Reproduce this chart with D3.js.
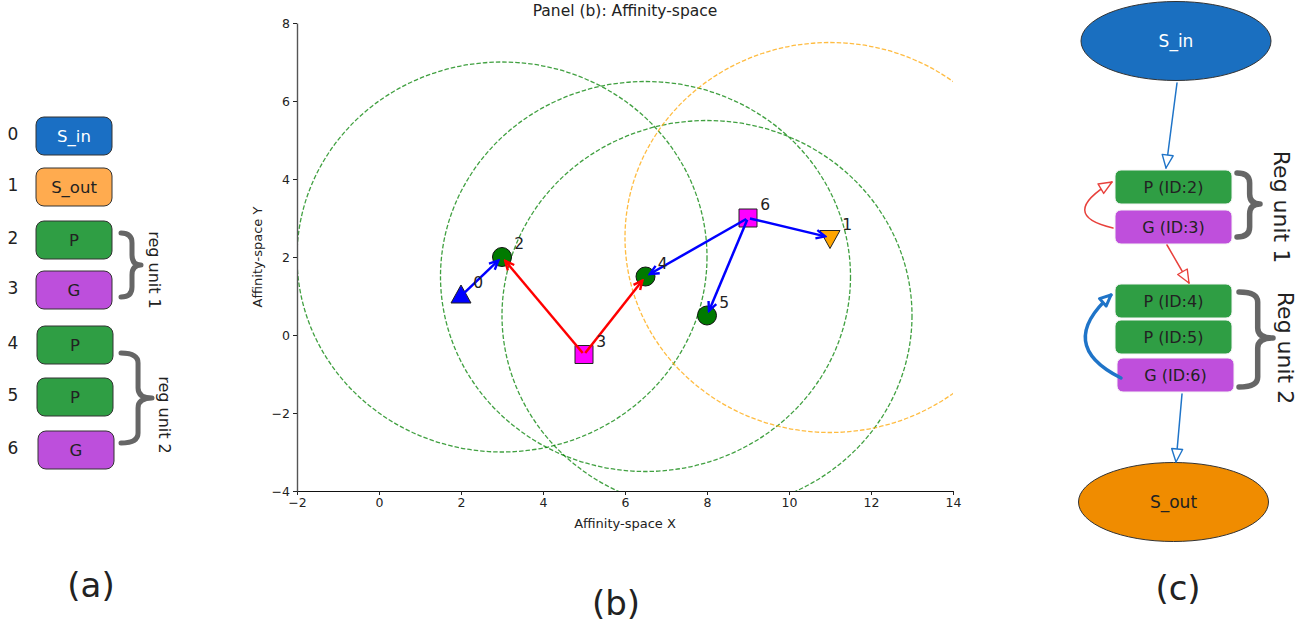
<!DOCTYPE html>
<html>
<head>
<meta charset="utf-8">
<script src="https://cdn.jsdelivr.net/npm/d3@7/dist/d3.min.js"></script>
<style>
  html, body { margin: 0; padding: 0; background: #fff; }
  svg { display: block; }
</style>
</head>
<body>
<svg id="fig" width="1313" height="630"></svg>
<script>
// ---- data ----
const nodeIds   = [0, 1, 2, 3, 4, 5, 6];
const nodeTypes = ["S_in", "S_out", "P", "G", "P", "P", "G"];
const affX = [2, 11, 3, 5, 6.5, 8, 9];
const affY = [1, 2.5, 2, -0.5, 1.5, 0.5, 3];
// nodes that carry an affinity radius
const radiusNodes = [2, 4, 5, 1];
const affRadius = 5;
// directed edges: source, target, colour
const edgeSrc = [0, 3, 3, 6, 6, 6];
const edgeDst = [2, 2, 4, 4, 5, 1];
const edgeCol = ["blue", "red", "red", "blue", "blue", "blue"];
const xTicks = [-2, 0, 2, 4, 6, 8, 10, 12, 14];
const yTicks = [-4, -2, 0, 2, 4, 6, 8];
const graphLabels = ["S_in", "S_out", "P (ID:2)", "G (ID:3)", "P (ID:4)", "P (ID:5)", "G (ID:6)"];

const fillA = { S_in: "#1a6fc4", S_out: "#ffab4f", P: "#2f9e44", G: "#bd4fdc" };
const fillC = { S_in: "#1a6fc0", S_out: "#f08c00", P: "#2f9e44", G: "#bf4fdc" };
const FONT = "'DejaVu Sans', Verdana, sans-serif";

const svg = d3.select("#fig");
svg.append("rect").attr("width", 1313).attr("height", 630).attr("fill", "#fff");

const defs = svg.append("defs");

function bracePath(x, y0, y1, w, tipY) {
  const ym = tipY === undefined ? (y0 + y1) / 2 : tipY;
  const xm = x + w * 0.55;
  const q = Math.min(10, (y1 - y0) / 6);
  return `M${x},${y0} Q${xm},${y0} ${xm},${y0 + q} L${xm},${ym - q} Q${xm},${ym} ${x + w},${ym}` +
         ` Q${xm},${ym} ${xm},${ym + q} L${xm},${y1 - q} Q${xm},${y1} ${x},${y1}`;
}

// ================= panel (a): node list =================
const gA = svg.append("g").attr("font-family", FONT);
const boxTopA = [117, 168, 221, 271, 326, 378, 431];
const boxXA = [36, 36, 36, 36, 37, 37, 38];
nodeIds.forEach((id, i) => {
  const t = nodeTypes[i];
  gA.append("rect")
    .attr("x", boxXA[i]).attr("y", boxTopA[i])
    .attr("width", 76).attr("height", 38)
    .attr("rx", 8).attr("ry", 8)
    .attr("fill", fillA[t]).attr("stroke", "#333").attr("stroke-width", 1);
  gA.append("text")
    .attr("x", boxXA[i] + 38).attr("y", boxTopA[i] + 19)
    .attr("dy", "0.36em").attr("text-anchor", "middle")
    .attr("font-size", 16.5)
    .attr("fill", t === "S_in" ? "#fff" : "#222")
    .text(t);
  gA.append("text")
    .attr("x", 13).attr("y", boxTopA[i] + 17)
    .attr("dy", "0.36em").attr("text-anchor", "middle")
    .attr("font-size", 17).attr("fill", "#222")
    .text(id);
});
// braces for the regulatory units
const braceA = [
  { y0: 233, y1: 297, w: 20, tip: 265, tx: 155, ty: 270, label: "reg unit 1" },
  { y0: 353, y1: 443, w: 31, tip: 398, tx: 165, ty: 415, label: "reg unit 2" }
];
braceA.forEach(b => {
  gA.append("path").attr("d", bracePath(121, b.y0, b.y1, b.w, b.tip))
    .attr("fill", "none").attr("stroke", "#666").attr("stroke-width", 5)
    .attr("stroke-linecap", "round").attr("stroke-linejoin", "round");
  gA.append("text")
    .attr("transform", `translate(${b.tx},${b.ty}) rotate(90)`)
    .attr("text-anchor", "middle").attr("dy", "0.36em")
    .attr("font-size", 16).attr("fill", "#222")
    .text(b.label);
});
gA.append("text").attr("x", 91).attr("y", 597).attr("text-anchor", "middle")
  .attr("font-size", 34).attr("fill", "#222").text("(a)");

// ================= panel (b): affinity space =================
const plot = { left: 297, right: 953, top: 23, bottom: 491 };
const x = d3.scaleLinear().domain([-2, 14]).range([plot.left, plot.right]);
const y = d3.scaleLinear().domain([-4, 8]).range([plot.bottom, plot.top]);
const gB = svg.append("g").attr("font-family", FONT);

defs.append("clipPath").attr("id", "plotClip")
  .append("rect").attr("x", plot.left).attr("y", plot.top)
  .attr("width", plot.right - plot.left).attr("height", plot.bottom - plot.top);

// affinity radius circles
gB.append("g").attr("clip-path", "url(#plotClip)")
  .selectAll("ellipse").data(radiusNodes).join("ellipse")
  .attr("cx", d => x(affX[d])).attr("cy", d => y(affY[d]))
  .attr("rx", d => x(affX[d] + affRadius) - x(affX[d]))
  .attr("ry", d => y(affY[d]) - y(affY[d] + affRadius))
  .attr("fill", "none")
  .attr("stroke", d => nodeTypes[d] === "S_out" ? "#ffa500" : "#008000")
  .attr("stroke-opacity", 0.75)
  .attr("stroke-width", 1.3)
  .attr("stroke-dasharray", "4.5,2");

// axes
const xAxis = d3.axisBottom(x).tickValues(xTicks).tickSize(4).tickSizeOuter(0).tickPadding(3);
const yAxis = d3.axisLeft(y).tickValues(yTicks).tickSize(4).tickSizeOuter(0).tickPadding(3);
const gx = gB.append("g").attr("transform", `translate(0,${plot.bottom})`).call(xAxis);
const gy = gB.append("g").attr("transform", `translate(${plot.left},0)`).call(yAxis);
[gx, gy].forEach(g => {
  g.selectAll("text").attr("font-size", 12.5).attr("fill", "#222").attr("font-family", FONT);
  g.selectAll("line").attr("stroke", "#222");
});
gx.select(".domain").attr("stroke", "#111").attr("stroke-width", 1.2);
gy.select(".domain").attr("stroke", "#555").attr("stroke-width", 1.4);

gB.append("text").attr("x", (plot.left + plot.right) / 2).attr("y", 528)
  .attr("text-anchor", "middle").attr("font-size", 13).attr("fill", "#222")
  .text("Affinity-space X");
gB.append("text")
  .attr("transform", `translate(262,${(plot.top + plot.bottom) / 2}) rotate(-90)`)
  .attr("text-anchor", "middle").attr("font-size", 13).attr("fill", "#222")
  .text("Affinity-space Y");
gB.append("text").attr("x", (plot.left + plot.right) / 2).attr("y", 16)
  .attr("text-anchor", "middle").attr("font-size", 15.5).attr("fill", "#222")
  .text("Panel (b): Affinity-space");

// node markers
const markerFill = { S_in: "#0000ff", S_out: "#ffa500", P: "#007a00", G: "#ff00ff" };
const gM = gB.append("g");
nodeIds.forEach((id, i) => {
  const t = nodeTypes[i];
  const cx = x(affX[i]), cy = y(affY[i]);
  let sym;
  if (t === "S_in") sym = `M${cx},${cy - 11} L${cx + 10},${cy + 7} L${cx - 10},${cy + 7}Z`;
  else if (t === "S_out") sym = `M${cx},${cy + 11} L${cx + 10},${cy - 7} L${cx - 10},${cy - 7}Z`;
  else if (t === "G") sym = `M${cx - 9},${cy - 9} h18 v18 h-18Z`;
  if (t === "P") {
    gM.append("circle").attr("cx", cx).attr("cy", cy).attr("r", 9.5)
      .attr("fill", markerFill[t]).attr("stroke", "#111").attr("stroke-width", 1);
  } else {
    gM.append("path").attr("d", sym)
      .attr("fill", markerFill[t]).attr("stroke", "#222").attr("stroke-width", 1);
  }
});

// edges with open arrow heads
["blue", "red"].forEach(c => {
  defs.append("marker").attr("id", "head-" + c)
    .attr("viewBox", "-12 -7 14 14").attr("refX", 0).attr("refY", 0)
    .attr("markerWidth", 14).attr("markerHeight", 14)
    .attr("markerUnits", "userSpaceOnUse").attr("orient", "auto")
    .append("path").attr("d", "M-9,-4.2 L0,0 L-9,4.2")
    .attr("fill", "none").attr("stroke", c).attr("stroke-width", 2.4)
    .attr("stroke-linejoin", "miter");
});
const gE = gB.append("g");
edgeSrc.forEach((s, k) => {
  const d = edgeDst[k];
  const x0 = x(affX[s]), y0 = y(affY[s]);
  const x1 = x(affX[d]), y1 = y(affY[d]);
  const len = Math.hypot(x1 - x0, y1 - y0);
  const ux = (x1 - x0) / len, uy = (y1 - y0) / len;
  const shrinkA = 2, shrinkB = 5;
  gE.append("line")
    .attr("x1", x0 + ux * shrinkA).attr("y1", y0 + uy * shrinkA)
    .attr("x2", x1 - ux * shrinkB).attr("y2", y1 - uy * shrinkB)
    .attr("stroke", edgeCol[k]).attr("stroke-width", 2.5)
    .attr("marker-end", `url(#head-${edgeCol[k]})`);
});

// node id labels
nodeIds.forEach((id, i) => {
  gB.append("text")
    .attr("x", x(affX[i] + 0.3)).attr("y", y(affY[i] + 0.2))
    .attr("font-size", 15.5).attr("fill", "#222")
    .text(id);
});
gB.append("text").attr("x", 616).attr("y", 615).attr("text-anchor", "middle")
  .attr("font-size", 34).attr("fill", "#222").text("(b)");

// ================= panel (c): regulatory graph =================
const gC = svg.append("g").attr("font-family", FONT);
const ellC = { 0: { cx: 1176, cy: 41 }, 1: { cx: 1173.5, cy: 502 } };
[0, 1].forEach(i => {
  const t = nodeTypes[i];
  gC.append("ellipse").attr("cx", ellC[i].cx).attr("cy", ellC[i].cy)
    .attr("rx", 95).attr("ry", 39.5)
    .attr("fill", fillC[t]).attr("stroke", "#333").attr("stroke-width", 1);
  gC.append("text").attr("x", ellC[i].cx).attr("y", ellC[i].cy)
    .attr("dy", "0.36em").attr("text-anchor", "middle").attr("font-size", 17)
    .attr("fill", t === "S_in" ? "#fff" : "#222").text(graphLabels[i]);
});
const boxC = {
  2: { x: 1115, y: 170 }, 3: { x: 1115, y: 210 },
  4: { x: 1115, y: 284 }, 5: { x: 1115, y: 320 }, 6: { x: 1117, y: 358 }
};
[2, 3, 4, 5, 6].forEach(i => {
  const b = boxC[i];
  gC.append("rect").attr("x", b.x).attr("y", b.y)
    .attr("width", 117).attr("height", 34).attr("rx", 6).attr("ry", 6)
    .attr("fill", fillC[nodeTypes[i]]).attr("stroke", "#f4f4f4").attr("stroke-width", 1);
  gC.append("text").attr("x", b.x + 58.5).attr("y", b.y + 17)
    .attr("dy", "0.36em").attr("text-anchor", "middle").attr("font-size", 16)
    .attr("fill", "#222").text(graphLabels[i]);
});

// open triangle heads for the graph arrows
const headC = [["gblue", "#1f74c8", 1.4, 13, 5.5], ["gred", "#e8413c", 1.4, 13, 5.5], ["gblueThick", "#1f74c8", 3, 11, 5]];
headC.forEach(([id, col, sw, len, half]) => {
  defs.append("marker").attr("id", id)
    .attr("viewBox", "-16 -9 19 18").attr("refX", 0).attr("refY", 0)
    .attr("markerWidth", 19).attr("markerHeight", 18)
    .attr("orient", "auto")
    .attr("markerUnits", "userSpaceOnUse")
    .append("path").attr("d", `M${-len},${-half} L0,0 L${-len},${half}Z`)
    .attr("fill", "#fff").attr("stroke", col)
    .attr("stroke-width", sw).attr("stroke-linejoin", "round");
});
const cArrows = [
  { d: "M1177,83 L1166,168", col: "#1f74c8", w: 1.5, m: "gblue" },
  { d: "M1167,245 L1189,283", col: "#e8413c", w: 1.5, m: "gred" },
  { d: "M1113,228 Q1057,215 1112,182", col: "#e8413c", w: 1.5, m: "gred" },
  { d: "M1121,378 Q1055,345 1111,295", col: "#1f74c8", w: 3.5, m: "gblueThick" },
  { d: "M1182,394 L1176,462", col: "#1f74c8", w: 1.5, m: "gblue" }
];
cArrows.forEach(a => {
  gC.append("path").attr("d", a.d).attr("fill", "none")
    .attr("stroke", a.col).attr("stroke-width", a.w)
    .attr("stroke-linecap", "round")
    .attr("marker-end", `url(#${a.m})`);
});
const braceC = [
  { x: 1237, y0: 173, y1: 237, w: 23, tip: 204, tx: 1282, ty: 207, label: "Reg unit 1" },
  { x: 1239, y0: 292, y1: 387, w: 34, tip: 338, tx: 1286, ty: 348, label: "Reg unit 2" }
];
braceC.forEach(b => {
  gC.append("path").attr("d", bracePath(b.x, b.y0, b.y1, b.w, b.tip))
    .attr("fill", "none").attr("stroke", "#666").attr("stroke-width", 5.5)
    .attr("stroke-linecap", "round").attr("stroke-linejoin", "round");
  gC.append("text")
    .attr("transform", `translate(${b.tx},${b.ty}) rotate(90)`)
    .attr("text-anchor", "middle").attr("dy", "0.36em")
    .attr("font-size", 22).attr("fill", "#222")
    .text(b.label);
});
gC.append("text").attr("x", 1178).attr("y", 600).attr("text-anchor", "middle")
  .attr("font-size", 34).attr("fill", "#222").text("(c)");
</script>
</body>
</html>
